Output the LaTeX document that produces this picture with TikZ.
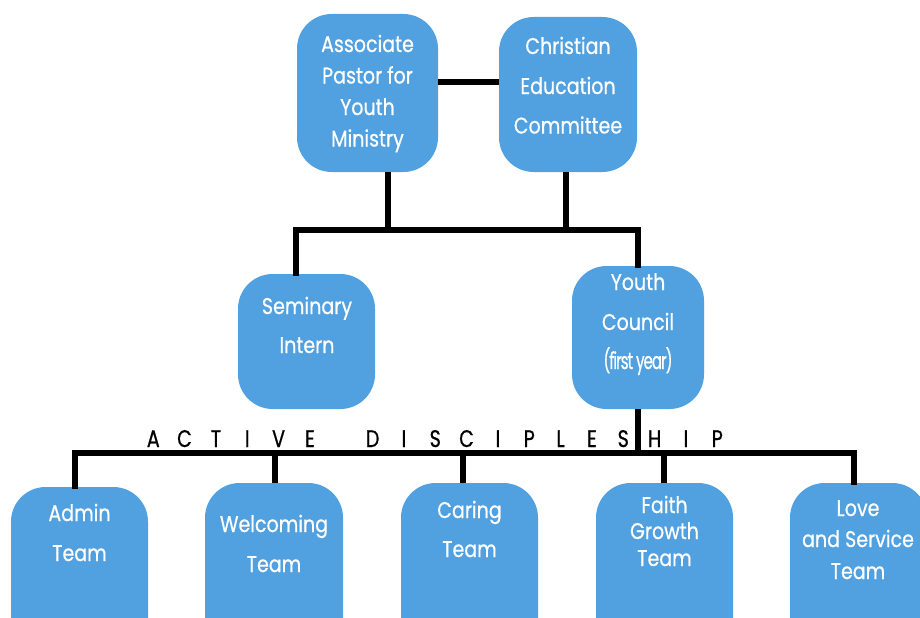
\documentclass[tikz,border=0pt]{standalone}
\usepackage{fontspec}
\usetikzlibrary{fit}
\newfontfamily\boxfont{Poppins}[FakeStretch=0.84,FakeBold=0.6]
\newfontfamily\smallfont{Poppins}[FakeStretch=0.64,LetterSpace=-4,FakeBold=0.7]
\newfontfamily\capsfont{Poppins}[FakeStretch=0.8,FakeBold=0.7]
\definecolor{boxblue}{RGB}{81,160,224}
\newcommand\lslot[1]{\makebox[23.5pt][c]{#1}}
\tikzset{
  box/.style={fill=boxblue, draw=none, rounded corners=26pt, inner sep=0pt},
  txt/.style={anchor=base, inner sep=0pt, text=white, font=\boxfont\fontsize{17pt}{20pt}\selectfont},
  link/.style={line width=3.8pt, draw=black, line cap=rect}
}
\begin{document}
\begin{tikzpicture}[x=0.75pt,y=-0.75pt]
\useasboundingbox (0,0) rectangle (920,617);
\clip (0,0) rectangle (920,617);
% boxes
\node[box, fit={(297,14) (438,172)}] (apym) {};
\node[box, fit={(499,17) (637,172)}] (cec) {};
\node[box, fit={(238,274) (375,409)}] (sem) {};
\node[box, fit={(572,266) (704,409)}] (yc) {};
\node[box, fit={(11,487) (148,680)}] (admin) {};
\node[box, fit={(205,483) (343,680)}] (welc) {};
\node[box, fit={(401,483) (538,680)}] (caring) {};
\node[box, fit={(596,483) (733,680)}] (faith) {};
\node[box, fit={(790,483) (927,680)}] (love) {};
% junction coordinates
\coordinate (h0) at (468,82);
\coordinate (t1) at (388,230);
\coordinate (t2) at (566,230);
\coordinate (bl) at (296,230);
\coordinate (br) at (638,230);
\coordinate (m) at (638,453);
\coordinate (ql) at (75,453);
\coordinate (q2) at (275,453);
\coordinate (q3) at (463,453);
\coordinate (q4) at (664,453);
\coordinate (qr) at (854,453);
% connectors
\draw[link, line cap=butt] (apym.east |- h0) -- (cec.west |- h0);
\draw[link, line cap=butt] (apym.south -| t1) -- (t1);
\draw[link, line cap=butt] (cec.south -| t2) -- (t2);
\draw[link] (sem.north -| bl) -- (bl) -- (br) -- (yc.north -| br);
\draw[link, line cap=butt] (yc.south -| m) -- (m);
\draw[link] (admin.north -| ql) -- (ql) -- (qr) -- (love.north -| qr);
\draw[link, line cap=butt] (q2) -- (welc.north -| q2);
\draw[link, line cap=butt] (q3) -- (caring.north -| q3);
\draw[link, line cap=butt] (q4) -- (faith.north -| q4);
% title
\node[anchor=base west, inner sep=0pt, font=\capsfont\fontsize{18pt}{20pt}\selectfont] (title) at (137.35,447)
 {\lslot{A}\lslot{C}\lslot{T}\lslot{I}\lslot{V}\lslot{E}\lslot{}\lslot{D}\lslot{I}\lslot{S}\lslot{C}\lslot{I}\lslot{P}\lslot{L}\lslot{E}\lslot{S}\lslot{H}\lslot{I}\lslot{P}};
% texts
\node[txt] (a1) at (367.5,52) {Associate};
\node[txt] (a2) at (367.5,83.5) {Pastor for};
\node[txt] (a3) at (367.5,115) {Youth};
\node[txt] (a4) at (367.5,146.5) {Ministry};
\node[txt] (c1) at (568,54) {Christian};
\node[txt] (c2) at (568,94) {Education};
\node[txt] (c3) at (568,133.5) {Committee};
\node[txt] (s1) at (307,314) {Seminary};
\node[txt] (s2) at (307,353) {Intern};
\node[txt] (y1) at (638,290) {Youth};
\node[txt] (y2) at (638,330) {Council};
\node[txt, font=\smallfont\fontsize{17.5pt}{18pt}\selectfont] (y3) at (638,369) {(first year)};
\node[txt] (ad1) at (79.5,521) {Admin};
\node[txt] (ad2) at (79.5,561) {Team};
\node[txt] (w1) at (274,532) {Welcoming};
\node[txt] (w2) at (274,572) {Team};
\node[txt] (cr1) at (469.5,518) {Caring};
\node[txt] (cr2) at (469.5,557) {Team};
\node[txt] (f1) at (664.5,513) {Faith};
\node[txt] (f2) at (664.5,539) {Growth};
\node[txt] (f3) at (664.5,566) {Team};
\node[txt] (l1) at (858,516) {Love};
\node[txt] (l2) at (858,547) {and Service};
\node[txt] (l3) at (858,579) {Team};
\end{tikzpicture}
\end{document}
